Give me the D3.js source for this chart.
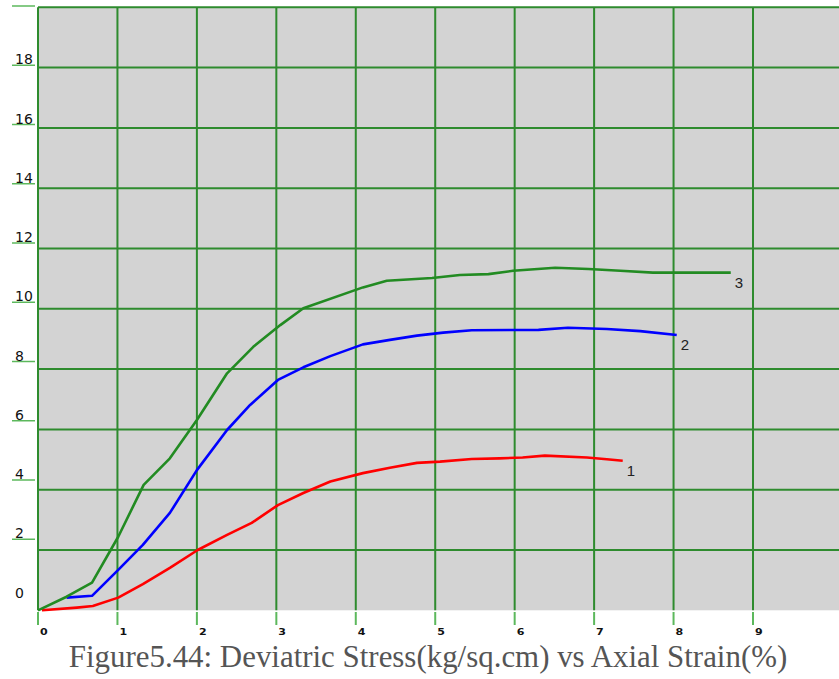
<!DOCTYPE html>
<html>
<head>
<meta charset="utf-8">
<script src="https://cdn.jsdelivr.net/npm/d3@7"></script>
<style>
  html, body { margin: 0; padding: 0; background: #ffffff; }
  svg { display: block; }
</style>
</head>
<body>
<svg id="chart" width="839" height="679"></svg>
<script>
// Axial strain (%) ticks and deviatric stress ticks
const xTicks = [0, 1, 2, 3, 4, 5, 6, 7, 8, 9];
const yGrid = [2, 4, 6, 8, 10, 12, 14, 16, 18, 20];
const yTickLabels = [0, 2, 4, 6, 8, 10, 12, 14, 16, 18];
const yTickMarks = [2, 4, 6, 8, 10, 12, 14, 16, 18, 20];

// Sample 1
const strain1 = [0.05, 0.49, 0.69, 1.01, 1.32, 1.66, 2.01, 2.38, 2.69, 3.02, 3.34, 3.68, 4.09, 4.43, 4.77, 5.06, 5.46, 5.81, 6.10, 6.38, 6.91, 7.16, 7.36];
const stress1 = [0.00, 0.09, 0.14, 0.42, 0.87, 1.41, 2.00, 2.50, 2.90, 3.49, 3.89, 4.27, 4.55, 4.73, 4.89, 4.93, 5.02, 5.04, 5.07, 5.13, 5.07, 5.01, 4.96];

// Sample 2
const strain2 = [0.36, 0.68, 1.01, 1.32, 1.66, 2.00, 2.38, 2.67, 3.02, 3.34, 3.68, 4.09, 4.43, 4.77, 5.10, 5.46, 6.30, 6.67, 7.16, 7.58, 8.04];
const stress2 = [0.42, 0.48, 1.34, 2.17, 3.23, 4.65, 5.98, 6.81, 7.64, 8.06, 8.43, 8.82, 8.97, 9.11, 9.21, 9.29, 9.30, 9.37, 9.33, 9.26, 9.13];

// Sample 3
const strain3 = [0.00, 0.36, 0.68, 1.01, 1.33, 1.66, 2.00, 2.38, 2.71, 3.05, 3.34, 4.09, 4.39, 4.96, 5.31, 5.67, 5.98, 6.51, 6.93, 7.33, 7.74, 8.72];
const stress3 = [0.00, 0.45, 0.92, 2.44, 4.16, 5.04, 6.31, 7.86, 8.74, 9.46, 10.02, 10.71, 10.93, 11.02, 11.12, 11.15, 11.26, 11.36, 11.32, 11.26, 11.20, 11.20];

const seriesNames = ["1", "2", "3"];
const seriesColors = ["#ff0000", "#0000ff", "#228b22"];

const titleText = "Figure5.44: Deviatric Stress(kg/sq.cm) vs Axial Strain(%)";

const svg = d3.select("#chart");
const W = 839;

const plotLeft = 38, plotTop = 7.3, plotBottom = 610.3;
const x = d3.scaleLinear().domain([0, 9]).range([plotLeft, 753]);
const y = d3.scaleLinear().domain([0, 20]).range([plotBottom, plotTop]);
// the value labels on the left run on their own slightly tighter scale
const yLab = d3.scaleLinear().domain([0, 20]).range([598.5, 6]);

const gridColor = "#2e8b2e";
const tickColor = "#5cb85c";

// plot background
svg.append("rect")
  .attr("x", plotLeft).attr("y", plotTop)
  .attr("width", W - plotLeft).attr("height", plotBottom - plotTop)
  .attr("fill", "#d3d3d3");

// horizontal grid
svg.append("g").selectAll("line").data(yGrid).join("line")
  .attr("x1", plotLeft).attr("x2", W)
  .attr("y1", d => y(d)).attr("y2", d => y(d))
  .attr("stroke", gridColor).attr("stroke-width", 2);

// vertical grid
svg.append("g").selectAll("line").data(xTicks).join("line")
  .attr("x1", d => x(d)).attr("x2", d => x(d))
  .attr("y1", plotTop).attr("y2", plotBottom)
  .attr("stroke", gridColor).attr("stroke-width", 2);

// x ticks below the plot
svg.append("g").selectAll("line").data(xTicks).join("line")
  .attr("x1", d => x(d)).attr("x2", d => x(d))
  .attr("y1", 612).attr("y2", 625)
  .attr("stroke", tickColor).attr("stroke-width", 2);

svg.append("g").selectAll("text").data(xTicks).join("text")
  .attr("transform", d => `translate(${x(d) + 2},635) scale(1.3,1)`)
  .attr("font-family", "DejaVu Sans")
  .attr("font-weight", "bold")
  .attr("font-size", 8.5)
  .attr("fill", "#111")
  .text(d => d);

// y ticks on the left
svg.append("g").selectAll("line").data(yTickMarks).join("line")
  .attr("x1", 12).attr("x2", 35)
  .attr("y1", d => yLab(d)).attr("y2", d => yLab(d))
  .attr("stroke", tickColor).attr("stroke-width", 1.5);

svg.append("g").selectAll("text").data(yTickLabels).join("text")
  .attr("x", 15)
  .attr("y", d => yLab(d) - 1)
  .attr("font-family", "DejaVu Sans")
  .attr("font-size", 14)
  .attr("fill", "#111")
  .text(d => d);

// curves
const strains = [strain1, strain2, strain3];
const stresses = [stress1, stress2, stress3];
const line = d3.line().x(d => x(d[0])).y(d => y(d[1]));

strains.forEach((xs, i) => {
  const pts = xs.map((v, j) => [v, stresses[i][j]]);
  svg.append("path")
    .datum(pts)
    .attr("d", line)
    .attr("fill", "none")
    .attr("stroke", seriesColors[i])
    .attr("stroke-width", 2.6)
    .attr("stroke-linejoin", "round");
  const last = pts[pts.length - 1];
  svg.append("text")
    .attr("x", x(last[0]) + 4)
    .attr("y", y(last[1]) + 15)
    .attr("font-family", "Liberation Sans, Arial, sans-serif")
    .attr("font-size", 15)
    .attr("fill", "#222")
    .text(seriesNames[i]);
});

// caption
const title = svg.append("text")
  .attr("x", 428)
  .attr("y", 667)
  .attr("text-anchor", "middle")
  .attr("font-family", "Liberation Serif, Times New Roman, serif")
  .attr("font-size", 30)
  .attr("fill", "#555555")
  .text(titleText);
const tw = title.node().getComputedTextLength();
title.attr("font-size", 30 * 719 / tw);
</script>
</body>
</html>
